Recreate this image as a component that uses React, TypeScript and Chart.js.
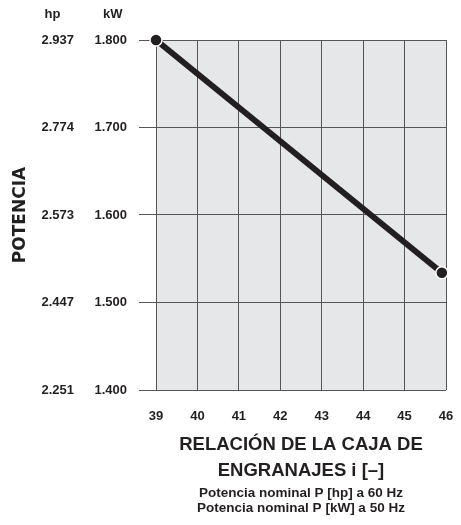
import React, { useEffect, useRef } from 'react';
import { Chart, registerables } from 'chart.js';

Chart.register(...registerables);

// ---- data ----
const gearRatio = [39, 45.9];
const powerKw = [1.8, 1.534];
const xMin = 39;
const xMax = 46;
const kwMin = 1.4;
const kwMax = 1.8;
const kwStep = 0.1;
const kwTickLabels = ['1.400', '1.500', '1.600', '1.700', '1.800'];
const hpTickLabels = ['2.251', '2.447', '2.573', '2.774', '2.937'];
const xTitle = ['RELACIÓN DE LA CAJA DE', 'ENGRANAJES i [–]'];
const yTitle = 'POTENCIA';
const notes = ['Potencia nominal P [hp] a 60 Hz', 'Potencia nominal P [kW] a 50 Hz'];
const hpHeader = 'hp';
const kwHeader = 'kW';

// ---- styles ----
const ink = '#231f20';
const gridColor = '#555555';
const plotFill = '#e6e7e8';
const sans = "'Liberation Sans', Arial, sans-serif";

const decor = {
  id: 'decor',
  beforeDraw(chart: any) {
    const { ctx, chartArea: a } = chart;
    ctx.save();
    ctx.fillStyle = plotFill;
    ctx.fillRect(a.left, a.top, a.right - a.left, a.bottom - a.top);
    ctx.restore();
  },
  afterDraw(chart: any) {
    const { ctx, chartArea: a } = chart;
    ctx.save();
    ctx.font = `bold 13px ${sans}`;
    ctx.fillStyle = ink;
    ctx.textBaseline = 'middle';
    const y = a.top - 26;
    const hp = chart.scales.yhp;
    const hpRight = hp.right - hp.options.ticks.padding;
    const hpW = Math.max(...hpTickLabels.map((t) => ctx.measureText(t).width));
    ctx.textAlign = 'left';
    ctx.fillText(hpHeader, hpRight - hpW + 3, y);
    const kw = chart.scales.ykw;
    const kwRight = kw.right - kw.options.grid.tickLength - kw.options.ticks.padding;
    const kwW = Math.max(...kwTickLabels.map((t) => ctx.measureText(t).width));
    ctx.textAlign = 'center';
    ctx.fillText(kwHeader, kwRight - kwW / 2 + 2, y);
    ctx.restore();
  },
};

export default function App() {
  const ref = useRef<HTMLCanvasElement>(null);
  useEffect(() => {
    if (!ref.current) return;
    const chart = new Chart(ref.current, {
      type: 'line',
      data: {
        datasets: [
          {
            data: gearRatio.map((x, i) => ({ x, y: powerKw[i] })),
            borderColor: ink,
            borderWidth: 6,
            pointRadius: 6,
            pointBackgroundColor: ink,
            pointBorderColor: '#ffffff',
            pointBorderWidth: 1.5,
            clip: false,
            yAxisID: 'ykw',
          },
        ],
      },
      options: {
        responsive: false,
        animation: false,
        layout: { padding: { top: 40, right: 15, bottom: 9.5, left: 0 } },
        plugins: {
          legend: { display: false },
          tooltip: { enabled: false },
          title: {
            display: true,
            position: 'bottom',
            fullSize: false,
            text: notes,
            color: ink,
            font: { family: sans, size: 13.5, weight: 'bold', lineHeight: 15 / 13.5 },
            padding: { top: 0, bottom: 0 },
          },
        },
        scales: {
          x: {
            type: 'linear',
            min: xMin,
            max: xMax,
            ticks: {
              stepSize: 1,
              color: ink,
              padding: 19,
              font: { family: sans, size: 13, weight: 'bold' },
            },
            grid: { color: gridColor, drawTicks: false, lineWidth: 1 },
            border: { display: false },
            title: {
              display: true,
              text: xTitle,
              color: ink,
              font: { family: sans, size: 18.5, weight: 'bold', lineHeight: 26 / 18.5 },
              padding: { top: 8, bottom: 1.5 },
            },
            afterFit(scale: any) {
              scale.height = 95.5;
              scale.paddingLeft = 0;
              scale.paddingRight = 0;
            },
          },
          ykw: {
            type: 'linear',
            position: 'left',
            weight: 0,
            min: kwMin,
            max: kwMax,
            ticks: {
              stepSize: kwStep,
              color: ink,
              padding: 12,
              font: { family: sans, size: 13, weight: 'bold' },
              callback: (_v: any, i: number) => kwTickLabels[i],
            },
            grid: { color: gridColor, tickLength: 17, drawTicks: true, lineWidth: 1 },
            border: { display: false },
            afterFit(scale: any) {
              scale.width = 66;
            },
          },
          yhp: {
            type: 'linear',
            position: 'left',
            weight: 1,
            min: kwMin,
            max: kwMax,
            ticks: {
              stepSize: kwStep,
              color: ink,
              padding: 16,
              font: { family: sans, size: 13, weight: 'bold' },
              callback: (_v: any, i: number) => hpTickLabels[i],
            },
            grid: { display: false, drawTicks: false },
            border: { display: false },
            title: {
              display: true,
              text: yTitle,
              color: ink,
              font: { family: "'DejaVu Sans', sans-serif", size: 17, weight: 'bold' },
              padding: { top: 10, bottom: 0 },
            },
            afterFit(scale: any) {
              scale.width = 90;
            },
          },
        },
      },
      plugins: [decor],
    } as any);
    return () => chart.destroy();
  }, []);
  return (
    <div style={{ position: 'fixed', left: 0, top: 0, width: 461, height: 525 }}>
      <canvas ref={ref} width={461} height={525} style={{ display: 'block' }} />
    </div>
  );
}
